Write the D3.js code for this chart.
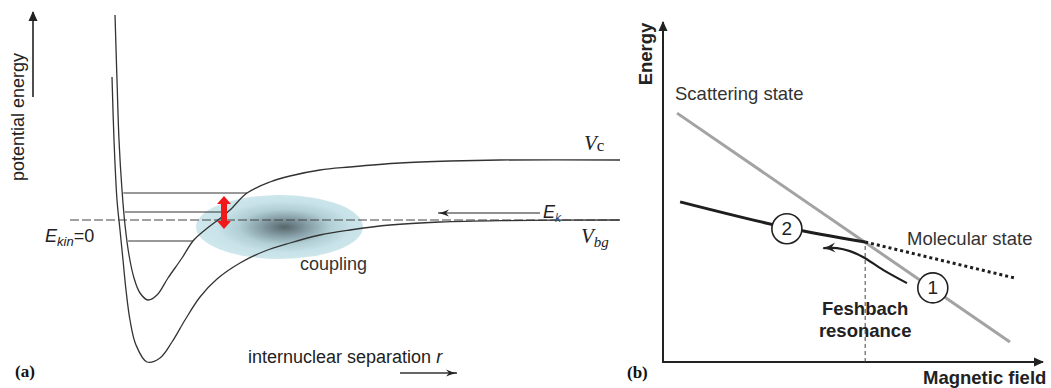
<!DOCTYPE html>
<html>
<head>
<meta charset="utf-8">
<script src="https://cdn.jsdelivr.net/npm/d3@7"></script>
<style>
  body { margin: 0; background: #fff; }
  text { font-family: 'Liberation Sans', Arial, sans-serif; }
</style>
</head>
<body>
<script>
// ---- panel (a): potential curves, r in arbitrary units, energy in arbitrary units (0 = E_kin)
const vcCurve = [[0.90,10.25],[0.94,7.0],[0.98,4.0],[1.04,1.5],[1.10,-0.25],[1.18,-1.75],[1.28,-2.9],
  [1.40,-3.65],[1.56,-4.0],[1.74,-3.75],[1.96,-2.9],[2.24,-1.9],[2.46,-1.05],[2.70,-0.5],[2.96,0],
  [3.20,0.5],[3.54,1.35],[4.0,1.9],[4.4,2.2],[5.0,2.5],[5.6,2.65],[6.6,2.85],[7.6,2.95],[8.6,3.0],[11,3.0]]
const vbgCurve = [[0.84,7.15],[0.88,4.0],[0.94,1.0],[1.0,-0.5],[1.06,-2.0],[1.12,-3.5],[1.2,-5.0],
  [1.32,-6.25],[1.54,-7.1],[1.8,-6.9],[2.04,-6.1],[2.3,-5.0],[2.6,-3.85],[2.94,-2.95],[3.4,-2.15],
  [3.9,-1.55],[4.4,-1.15],[5.0,-0.75],[5.6,-0.5],[6.4,-0.25],[7.4,-0.1],[8.6,-0.03],[11,0]]
const boundLevels = [1.35, 0.4, -1.05]
const thresholdLine = [0, 11]            // E_kin = 0, r range
const ekArrow = {from: 9.4, to: 7.36, E: 0.35}
const couplingArrow = {r: 3.08, top: 1.2, bottom: -0.45}
const couplingCloud = {r: 4.19, E: -0.35, rr: 1.67, rE: 1.6}

// ---- panel (b): energy vs magnetic field
const scatteringState = [[0.37,7.32],[9.13,0.59]]
const molecularState = [[0.45,4.71],[3.26,3.95],[5.32,3.53]]
const molecularDotted = [[5.32,3.53],[9.26,2.47]]
const resonanceField = 5.32
const sweepPath = [[6.42,2.32],[5.79,2.71],[5.26,3.09],[4.92,3.26],[4.58,3.35],[4.22,3.35]]
const stateMarkers = [{label:'2', B:3.26, E:3.92}, {label:'1', B:7.1, E:2.18}]

const W = 1051, H = 388

const svg = d3.select('body').append('svg')
  .attr('width', W).attr('height', H)
  .style('background', '#fff')

const defs = svg.append('defs')
const grad = defs.append('radialGradient').attr('id', 'cloud')
  .attr('cx', '53%').attr('cy', '50%').attr('r', '50%')
grad.selectAll('stop')
  .data([[0, '#56666a'], [0.25, '#8097a0'], [0.55, '#b2cfd6'], [0.8, '#c7e2e8'], [1, '#cde7ec']])
  .enter().append('stop')
  .attr('offset', d => d[0]).attr('stop-color', d => d[1])

defs.append('marker').attr('id', 'tri').attr('viewBox', '0 -5 10 10')
  .attr('refX', 9).attr('refY', 0).attr('markerWidth', 5).attr('markerHeight', 5)
  .attr('orient', 'auto').attr('markerUnits', 'strokeWidth')
  .append('path').attr('d', 'M0,-4.5L10,0L0,4.5Z').attr('fill', '#222')

defs.append('marker').attr('id', 'tri1').attr('viewBox', '0 -5 10 10')
  .attr('refX', 9).attr('refY', 0).attr('markerWidth', 10).attr('markerHeight', 10)
  .attr('orient', 'auto').attr('markerUnits', 'userSpaceOnUse')
  .append('path').attr('d', 'M0,-4.5L10,0L0,4.5Z').attr('fill', '#222')

defs.append('marker').attr('id', 'barb').attr('viewBox', '0 -5 12 10')
  .attr('refX', 11).attr('refY', 0).attr('markerWidth', 12).attr('markerHeight', 10)
  .attr('orient', 'auto').attr('markerUnits', 'userSpaceOnUse')
  .append('path').attr('d', 'M0,-3.5Q5,-1 11,0Q5,1 0,3.5L3,0Z').attr('fill', '#222')

defs.append('marker').attr('id', 'barb2').attr('viewBox', '0 -6 14 12')
  .attr('refX', 12).attr('refY', 0).attr('markerWidth', 14).attr('markerHeight', 12)
  .attr('orient', 'auto').attr('markerUnits', 'userSpaceOnUse')
  .append('path').attr('d', 'M0,-5Q6,-1.5 13,0Q6,1.5 0,5L4,0Z').attr('fill', '#222')

// ================= panel (a)
const xA = d3.scaleLinear().domain([0, 11]).range([70, 620])
const yA = d3.scaleLinear().domain([-8, 11]).range([380, 0])
const gA = svg.append('g')

const smooth = d3.line().x(d => xA(d[0])).y(d => yA(d[1])).curve(d3.curveCatmullRom.alpha(0.5))

// coupling cloud
gA.append('ellipse')
  .attr('cx', xA(couplingCloud.r)).attr('cy', yA(couplingCloud.E))
  .attr('rx', xA(couplingCloud.rr) - xA(0)).attr('ry', yA(0) - yA(couplingCloud.rE))
  .attr('fill', 'url(#cloud)')

// crossing of a curve branch with an energy level
function crossing(curve, E, i0, i1) {
  for (let i = i0; i < i1; i++) {
    const a = curve[i], b = curve[i + 1]
    if ((a[1] - E) * (b[1] - E) <= 0) {
      const t = (E - a[1]) / (b[1] - a[1])
      return a[0] + t * (b[0] - a[0])
    }
  }
  return null
}
const vcMin = d3.minIndex(vcCurve, d => d[1])

gA.selectAll('line.level').data(boundLevels).enter().append('line')
  .attr('class', 'level')
  .attr('x1', E => xA(crossing(vcCurve, E, 0, vcMin)) + 1)
  .attr('x2', E => xA(crossing(vcCurve, E, vcMin, vcCurve.length - 1)))
  .attr('y1', E => yA(E)).attr('y2', E => yA(E))
  .attr('stroke', '#333').attr('stroke-width', 1)

// threshold E_kin = 0
gA.append('line')
  .attr('x1', xA(thresholdLine[0])).attr('x2', xA(thresholdLine[1]))
  .attr('y1', yA(0)).attr('y2', yA(0))
  .attr('stroke', '#444').attr('stroke-width', 1.1).attr('stroke-dasharray', '9,3')

gA.append('path').datum(vcCurve).attr('d', smooth)
  .attr('fill', 'none').attr('stroke', '#333').attr('stroke-width', 1.3)
gA.append('path').datum(vbgCurve).attr('d', smooth)
  .attr('fill', 'none').attr('stroke', '#333').attr('stroke-width', 1.3)

// red double arrow
{
  const ax = xA(couplingArrow.r), y1 = yA(couplingArrow.top), y2 = yA(couplingArrow.bottom)
  const h = 8, hw = 7, sw = 3
  const p = `M${ax},${y1}L${ax+hw},${y1+h}L${ax+sw},${y1+h}L${ax+sw},${y2-h}L${ax+hw},${y2-h}` +
    `L${ax},${y2}L${ax-hw},${y2-h}L${ax-sw},${y2-h}L${ax-sw},${y1+h}L${ax-hw},${y1+h}Z`
  gA.append('path').attr('d', p).attr('fill', '#f01818')
}

// E_k arrow
gA.append('line')
  .attr('x1', xA(ekArrow.from)).attr('x2', xA(ekArrow.to))
  .attr('y1', yA(ekArrow.E)).attr('y2', yA(ekArrow.E))
  .attr('stroke', '#222').attr('stroke-width', 1.2).attr('marker-end', 'url(#barb)')

// labels
const ek = gA.append('text').attr('x', xA(ekArrow.from) + 3).attr('y', yA(ekArrow.E) + 5)
  .attr('font-size', 18).attr('fill', '#222').style('font-style', 'italic')
ek.append('tspan').text('E')
ek.append('tspan').text('k').attr('font-size', 12).attr('dy', 4).attr('fill', '#2a4f7a')

const ekin = gA.append('text').attr('x', 45).attr('y', yA(0) + 22)
  .attr('font-size', 18).attr('fill', '#222')
ekin.append('tspan').text('E').style('font-style', 'italic')
ekin.append('tspan').text('kin').style('font-style', 'italic').attr('font-size', 13).attr('dy', 4)
ekin.append('tspan').text('=0').attr('dy', -4)

const vc = gA.append('text').attr('x', 584).attr('y', yA(3) - 10)
  .attr('font-size', 21).attr('fill', '#222').style('font-family', "'Liberation Serif', serif")
vc.append('tspan').text('V').style('font-style', 'italic')
vc.append('tspan').text('c').attr('font-size', 17).attr('dy', 1)

const vbg = gA.append('text').attr('x', 581).attr('y', yA(0) + 23)
  .attr('font-size', 21).attr('fill', '#222').style('font-family', "'Liberation Serif', serif")
vbg.append('tspan').text('V').style('font-style', 'italic')
vbg.append('tspan').text('bg').style('font-style', 'italic').attr('font-size', 15).attr('dy', 4)

gA.append('text').attr('x', xA(4.6)).attr('y', yA(-2.5))
  .attr('font-size', 18).attr('fill', '#333').text('coupling')

// axis arrows & titles of (a)
gA.append('line').attr('x1', 33).attr('x2', 33).attr('y1', 97).attr('y2', 12)
  .attr('stroke', '#222').attr('stroke-width', 1.6).attr('marker-end', 'url(#tri1)')
gA.append('text').attr('transform', 'translate(24,117) rotate(-90)')
  .attr('text-anchor', 'middle').attr('font-size', 18).attr('fill', '#222').text('potential energy')

const sep = gA.append('text').attr('x', 248).attr('y', 363).attr('font-size', 18).attr('fill', '#222')
sep.append('tspan').text('internuclear separation ')
sep.append('tspan').text('r').style('font-style', 'italic')
gA.append('line').attr('x1', 400).attr('x2', 457).attr('y1', 373).attr('y2', 373)
  .attr('stroke', '#333').attr('stroke-width', 1.5).attr('marker-end', 'url(#barb)')

gA.append('text').attr('x', 15).attr('y', 377).attr('font-size', 17).attr('font-weight', 'bold')
  .style('font-family', "'Liberation Serif', serif").attr('fill', '#111').text('(a)')

// ================= panel (b)
const xB = d3.scaleLinear().domain([0, 10]).range([663, 1043])
const yB = d3.scaleLinear().domain([0, 10]).range([362, 22])
const gB = svg.append('g')
const straight = d3.line().x(d => xB(d[0])).y(d => yB(d[1]))
const bent = d3.line().x(d => xB(d[0])).y(d => yB(d[1])).curve(d3.curveCatmullRom.alpha(0.5))

// axes
gB.append('line').attr('x1', xB(0)).attr('x2', xB(0)).attr('y1', yB(0) + 1).attr('y2', yB(10))
  .attr('stroke', '#222').attr('stroke-width', 2).attr('marker-end', 'url(#tri)')
gB.append('line').attr('x1', xB(0) - 1).attr('x2', xB(10)).attr('y1', yB(0)).attr('y2', yB(0))
  .attr('stroke', '#222').attr('stroke-width', 2).attr('marker-end', 'url(#tri)')

gB.append('text').attr('transform', `translate(${xB(0) - 11},${yB(10) + 32}) rotate(-90)`)
  .attr('text-anchor', 'middle').attr('font-size', 18.5).attr('font-weight', 'bold')
  .attr('fill', '#222').text('Energy')
gB.append('text').attr('x', 923).attr('y', 384).attr('font-size', 18.5).attr('font-weight', 'bold')
  .attr('fill', '#222').text('Magnetic field')

// resonance position
gB.append('line').attr('x1', xB(resonanceField)).attr('x2', xB(resonanceField))
  .attr('y1', yB(0)).attr('y2', yB(3.45))
  .attr('stroke', '#444').attr('stroke-width', 1).attr('stroke-dasharray', '4,3')

gB.append('path').datum(scatteringState).attr('d', straight)
  .attr('fill', 'none').attr('stroke', '#a3a3a3').attr('stroke-width', 3)
gB.append('path').datum(molecularState).attr('d', bent)
  .attr('fill', 'none').attr('stroke', '#1e1e1e').attr('stroke-width', 3)
gB.append('path').datum(molecularDotted).attr('d', straight)
  .attr('fill', 'none').attr('stroke', '#1e1e1e').attr('stroke-width', 3).attr('stroke-dasharray', '3,3')

gB.append('path').datum(sweepPath).attr('d', bent)
  .attr('fill', 'none').attr('stroke', '#1e1e1e').attr('stroke-width', 2.2).attr('marker-end', 'url(#barb2)')

const mk = gB.selectAll('g.mk').data(stateMarkers).enter().append('g').attr('class', 'mk')
  .attr('transform', d => `translate(${xB(d.B)},${yB(d.E)})`)
mk.append('circle').attr('r', 15).attr('fill', '#fff').attr('stroke', '#222').attr('stroke-width', 1.6)
mk.append('text').attr('text-anchor', 'middle').attr('y', 6.5).attr('font-size', 19)
  .attr('fill', '#222').text(d => d.label)

gB.append('text').attr('x', 675).attr('y', 100).attr('font-size', 18.5).attr('fill', '#333')
  .text('Scattering state')
gB.append('text').attr('x', 907).attr('y', 245).attr('font-size', 18.5).attr('fill', '#333')
  .text('Molecular state')
gB.append('text').attr('x', xB(resonanceField)).attr('y', 315).attr('text-anchor', 'middle')
  .attr('font-size', 18.5).attr('font-weight', 'bold').attr('fill', '#222').text('Feshbach')
gB.append('text').attr('x', xB(resonanceField)).attr('y', 337).attr('text-anchor', 'middle')
  .attr('font-size', 18.5).attr('font-weight', 'bold').attr('fill', '#222').text('resonance')

gB.append('text').attr('x', 627).attr('y', 378).attr('font-size', 17).attr('font-weight', 'bold')
  .style('font-family', "'Liberation Serif', serif").attr('fill', '#111').text('(b)')
</script>
</body>
</html>
